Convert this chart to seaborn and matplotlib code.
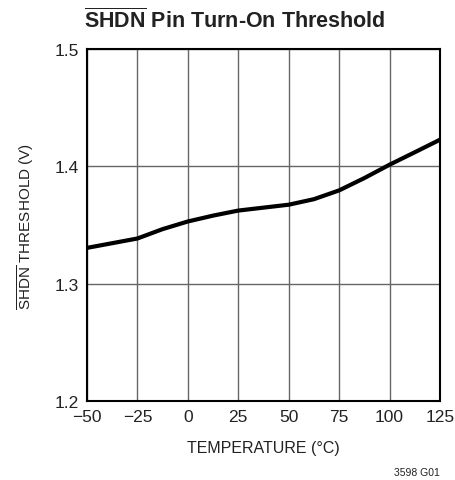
import numpy as np
import pandas as pd
import matplotlib
matplotlib.use('Agg')
import matplotlib.pyplot as plt
import seaborn as sns

# --- Data ---
temperature = [-50, -37.5, -25, -12.5, 0, 12.5, 25, 37.5, 50, 62.5, 75, 87.5, 100, 112.5, 125]
threshold = [1.3305, 1.3345, 1.3385, 1.3465, 1.353, 1.358, 1.3623, 1.3648, 1.3673,
             1.372, 1.3795, 1.390, 1.4014, 1.412, 1.4227]
x_ticks = [-50, -25, 0, 25, 50, 75, 100, 125]
x_tick_labels = ['\u221250', '\u221225', '0', '25', '50', '75', '100', '125']
y_ticks = [1.2, 1.3, 1.4, 1.5]
y_tick_labels = ['1.2', '1.3', '1.4', '1.5']

df = pd.DataFrame({'temp': temperature, 'thr': threshold})

# --- Style ---
sns.set_style('white')
plt.rcParams['font.family'] = ['Liberation Sans', 'DejaVu Sans']
plt.rcParams['mathtext.fontset'] = 'custom'
plt.rcParams['mathtext.rm'] = 'Liberation Sans'
plt.rcParams['mathtext.bf'] = 'Liberation Sans:bold'
plt.rcParams['text.color'] = '#222222'

fig = plt.figure(figsize=(4.56, 4.81), dpi=100)
ax = fig.add_axes([87 / 456, 1 - 402 / 481, 353 / 456, 352 / 481])

sns.lineplot(data=df, x='temp', y='thr', ax=ax, color='black', linewidth=3)

ax.set_xlim(-50, 125)
ax.set_ylim(1.2, 1.5)
ax.set_xticks(x_ticks)
ax.set_xticklabels(x_tick_labels, fontsize=12.5, color='#222222')
ax.set_yticks(y_ticks)
ax.set_yticklabels(y_tick_labels, fontsize=12.5, color='#222222')
ax.tick_params(length=0, pad=6)
ax.grid(True, color='#666666', linewidth=1)
for s in ax.spines.values():
    s.set_color('black')
    s.set_linewidth(1.5)

ax.set_xlabel('TEMPERATURE (\u00b0C)', fontsize=11.5, labelpad=11, color='#222222')
ax.set_ylabel(r'$\overline{\mathrm{SHDN}}$ THRESHOLD (V)', fontsize=11, labelpad=13, color='#222222')

fig.text(235 / 456, 1 - 21 / 481, r'$\overline{\mathbf{SHDN}}$ Pin Turn-On Threshold',
         fontsize=15.5, fontweight='bold', ha='center', va='center', color='#222222')
fig.text(440 / 456, 1 - 473 / 481, '3598 G01', fontsize=7.5, ha='right', va='center', color='#222222')

fig.savefig('out.png', dpi=100)
